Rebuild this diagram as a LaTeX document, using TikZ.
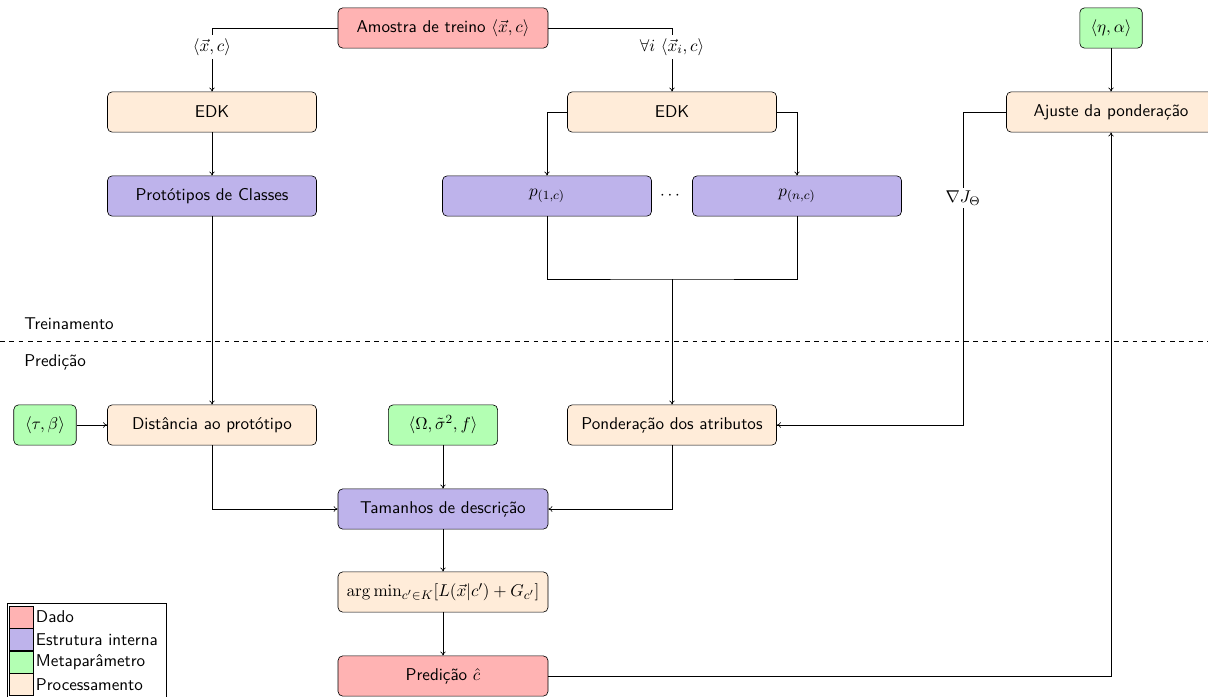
\documentclass[tikz,border=0pt]{standalone}
\usetikzlibrary{arrows.meta}
\definecolor{cDado}{RGB}{255,179,179}
\definecolor{cEst}{RGB}{190,179,235}
\definecolor{cMeta}{RGB}{179,255,179}
\definecolor{cProc}{RGB}{255,236,217}
\begin{document}
\begin{tikzpicture}[x=0.641pt,y=-0.641pt,
  font=\sffamily\fontsize{10.95}{13.6}\selectfont,
  box/.style={draw, rounded corners=3pt, minimum height=25.8pt, inner sep=2pt},
  wide/.style={box, minimum width=134pt},
  dado/.style={wide, fill=cDado},
  est/.style={wide, fill=cEst},
  proc/.style={wide, fill=cProc},
  meta/.style={box, fill=cMeta},
  arr/.style={-{To[length=2.6pt,width=3.6pt]}},
  lbl/.style={fill=white, inner sep=2pt},
  legsq/.style={draw, minimum width=15.4pt, minimum height=14pt, inner sep=0pt}]
\useasboundingbox (0,0) rectangle (1208,697);
% nodes
\node[dado, minimum width=134.6pt] (am) at (443,28) {Amostra de treino $\langle\vec{x},c\rangle$};
\node[proc] (edk1) at (212,112) {EDK};
\node[proc] (edk2) at (672,112) {EDK};
\node[est] (proto) at (212,196) {Protótipos de Classes};
\node[est] (p1) at (547,196) {$p_{(1,c)}$};
\node (dots) at (670,196) {$\cdots$};
\node[est] (pn) at (797,196) {$p_{(n,c)}$};
\node[meta, minimum width=40pt] (eta) at (1111,28) {$\langle\eta,\alpha\rangle$};
\node[proc] (aj) at (1111,112) {Ajuste da ponderação};
\node[meta, minimum width=40pt] (tau) at (45,425) {$\langle\tau,\beta\rangle$};
\node[proc] (dist) at (212,425) {Distância ao protótipo};
\node[meta, minimum width=70pt] (om) at (443,425) {$\langle\Omega,\tilde{\sigma}^2,f\rangle$};
\node[proc] (pond) at (672,425) {Ponderação dos atributos};
\node[est, minimum width=134.6pt] (tam) at (443,509) {Tamanhos de descrição};
\node[proc, minimum width=134.6pt] (arg) at (443,592) {$\arg\min_{c'\in K}[L(\vec{x}|c')+G_{c'}]$};
\node[dado, minimum width=134.6pt] (pred) at (443,676) {Predição $\hat{c}$};
% phase separator
\draw[dashed] (0,341) -- (1208,341);
\node[anchor=west, inner sep=0pt] (tr) at (24,324) {Treinamento};
\node[anchor=west, inner sep=0pt] (pr) at (24,362) {Predição};
% connectors
\draw[arr] (am.west) -| node[pos=0.65, lbl] {$\langle\vec{x},c\rangle$} (edk1.north);
\draw[arr] (am.east) -| node[pos=0.65, lbl] {$\forall i\ \langle\vec{x}_i,c\rangle$} (edk2.north);
\draw[arr] (edk1) -- (proto);
\draw[arr] (edk2.west) -| (p1.north);
\draw[arr] (edk2.east) -| (pn.north);
\coordinate (j) at (672,279);
\draw (p1.south) |- (j) -| (pn.south);
\draw[arr] (j) -- (pond.north);
\draw[arr] (proto.south) -- (dist.north);
\draw[arr] (tau) -- (dist);
\draw[arr] (om) -- (tam);
\draw[arr] (dist.south) |- (tam.west);
\draw[arr] (pond.south) |- (tam.east);
\draw[arr] (tam) -- (arg);
\draw[arr] (arg) -- (pred);
\draw[arr] (pred.east) -| (aj.south);
\draw[arr] (eta) -- (aj);
\coordinate (g1) at (963,112);
\coordinate (g2) at (963,425);
\draw[arr] (aj.west) -- (g1) -- node[pos=0.275, lbl] {$\nabla J_\Theta$} (g2) -- (pond.east);
% legend
\draw (7,603) rectangle (166,698);
\node[legsq, fill=cDado] (l1) at (21,617) {};
\node[legsq, fill=cEst] (l2) at (21,639.5) {};
\node[legsq, fill=cMeta] (l3) at (21,662) {};
\node[legsq, fill=cProc] (l4) at (21,684.5) {};
\node[anchor=west, inner sep=1.5pt] (t1) at (l1.east) {Dado};
\node[anchor=west, inner sep=1.5pt] (t2) at (l2.east) {Estrutura interna};
\node[anchor=west, inner sep=1.5pt] (t3) at (l3.east) {Metaparâmetro};
\node[anchor=west, inner sep=1.5pt] (t4) at (l4.east) {Processamento};
\end{tikzpicture}
\end{document}
